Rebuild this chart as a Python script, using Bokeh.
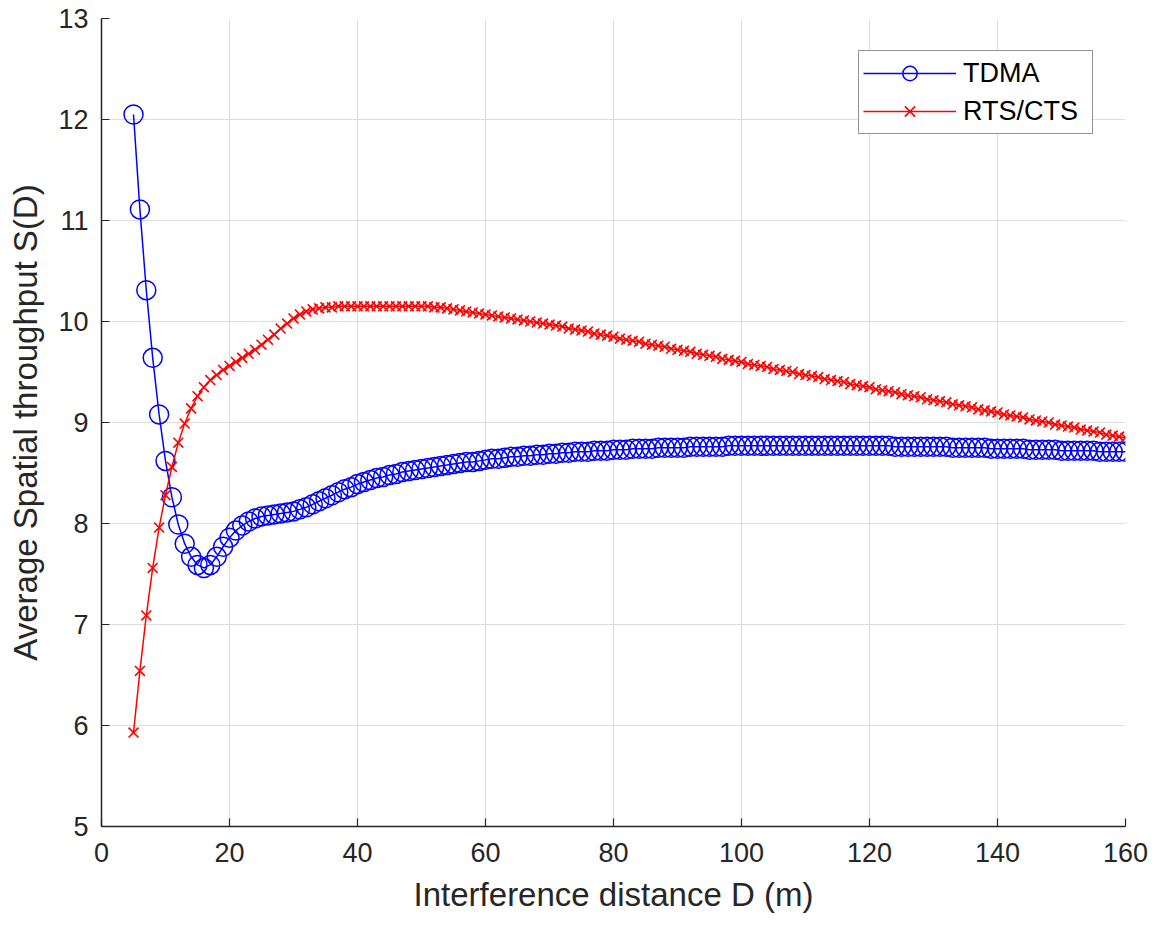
from bokeh.plotting import figure
from bokeh.models import FixedTicker, Legend, LegendItem
from bokeh.embed import file_html
from bokeh.resources import INLINE

# ---- data ----
D = list(range(5, 161))

tdma = [
    12.05, 11.11, 10.31, 9.64, 9.08, 8.62, 8.26, 7.99, 7.80, 7.67,
    7.59, 7.56, 7.59, 7.67, 7.77, 7.86, 7.93, 7.98, 8.02, 8.05,
    8.07, 8.08, 8.09, 8.10, 8.11, 8.12, 8.14, 8.16, 8.19, 8.22,
    8.25, 8.28, 8.31, 8.34, 8.36, 8.39, 8.41, 8.43, 8.45, 8.46,
    8.48, 8.49, 8.51, 8.52, 8.53, 8.54, 8.55, 8.56, 8.57, 8.58,
    8.59, 8.60, 8.61, 8.61, 8.62, 8.63, 8.64, 8.64, 8.65, 8.66,
    8.66, 8.67, 8.67, 8.68, 8.68, 8.69, 8.69, 8.70, 8.70, 8.71,
    8.71, 8.71, 8.72, 8.72, 8.72, 8.73, 8.73, 8.73, 8.74, 8.74,
    8.74, 8.74, 8.75, 8.75, 8.75, 8.75, 8.75, 8.76, 8.76, 8.76,
    8.76, 8.76, 8.76, 8.77, 8.77, 8.77, 8.77, 8.77, 8.77, 8.77,
    8.77, 8.77, 8.77, 8.77, 8.77, 8.77, 8.77, 8.77, 8.77, 8.77,
    8.77, 8.77, 8.77, 8.77, 8.77, 8.77, 8.77, 8.77, 8.77, 8.76,
    8.76, 8.76, 8.76, 8.76, 8.76, 8.76, 8.76, 8.76, 8.75, 8.75,
    8.75, 8.75, 8.75, 8.75, 8.74, 8.74, 8.74, 8.74, 8.74, 8.74,
    8.73, 8.73, 8.73, 8.73, 8.73, 8.72, 8.72, 8.72, 8.72, 8.72,
    8.72, 8.71, 8.71, 8.71, 8.71, 8.71,
]

rts_cts = [
    5.93, 6.54, 7.09, 7.56, 7.96, 8.28, 8.56, 8.80, 8.99, 9.14,
    9.26, 9.35, 9.42, 9.47, 9.52, 9.56, 9.60, 9.64, 9.68, 9.72,
    9.77, 9.82, 9.87, 9.93, 9.98, 10.03, 10.07, 10.10, 10.12, 10.13,
    10.14, 10.14, 10.15, 10.15, 10.15, 10.15, 10.15, 10.15, 10.15, 10.15,
    10.15, 10.15, 10.15, 10.15, 10.15, 10.15, 10.15, 10.14, 10.14, 10.13,
    10.12, 10.11, 10.10, 10.09, 10.08, 10.07, 10.06, 10.05, 10.04, 10.03,
    10.02, 10.01, 10.00, 9.99, 9.98, 9.97, 9.96, 9.95, 9.93, 9.92,
    9.91, 9.90, 9.88, 9.87, 9.86, 9.85, 9.83, 9.82, 9.81, 9.80,
    9.78, 9.77, 9.76, 9.75, 9.73, 9.72, 9.71, 9.70, 9.68, 9.67,
    9.66, 9.65, 9.63, 9.62, 9.61, 9.60, 9.58, 9.57, 9.56, 9.55,
    9.53, 9.52, 9.51, 9.50, 9.48, 9.47, 9.46, 9.45, 9.43, 9.42,
    9.41, 9.40, 9.38, 9.37, 9.36, 9.35, 9.33, 9.32, 9.31, 9.30,
    9.28, 9.27, 9.26, 9.25, 9.23, 9.22, 9.21, 9.20, 9.18, 9.17,
    9.16, 9.15, 9.13, 9.12, 9.11, 9.10, 9.08, 9.07, 9.06, 9.05,
    9.03, 9.02, 9.01, 9.00, 8.98, 8.97, 8.96, 8.95, 8.93, 8.92,
    8.91, 8.90, 8.88, 8.87, 8.86, 8.85,
]

x_ticks = [0, 20, 40, 60, 80, 100, 120, 140, 160]
y_ticks = [5, 6, 7, 8, 9, 10, 11, 12, 13]
series_names = ["TDMA", "RTS/CTS"]

FONT = "Liberation Sans"
DARK = "#262626"

p = figure(width=1154, height=928, x_range=(0, 160), y_range=(5, 13),
           output_backend="svg", toolbar_location=None,
           min_border_left=101, min_border_right=29,
           min_border_top=18, min_border_bottom=102)
p.outline_line_color = None
p.background_fill_color = "white"
p.border_fill_color = "white"

# axes
for ax in (p.xaxis[0], p.yaxis[0]):
    ax.axis_line_color = DARK
    ax.axis_line_width = 1.5
    ax.major_tick_line_color = DARK
    ax.major_tick_line_width = 1.2
    ax.major_tick_in = 8
    ax.major_tick_out = 0
    ax.minor_tick_line_color = None
    ax.major_label_text_font = FONT
    ax.major_label_text_font_size = "27px"
    ax.major_label_text_color = DARK
    ax.axis_label_text_font = FONT
    ax.axis_label_text_font_size = "33px"
    ax.axis_label_text_font_style = "normal"
    ax.axis_label_text_color = DARK

p.xaxis.ticker = FixedTicker(ticks=x_ticks)
p.yaxis.ticker = FixedTicker(ticks=y_ticks)
p.xaxis.axis_label = "Interference distance D (m)"
p.yaxis.axis_label = "Average Spatial throughput S(D)"
p.xaxis.major_label_standoff = 16
p.xaxis.axis_label_standoff = 11
p.yaxis.major_label_standoff = 13
p.yaxis.axis_label_standoff = 11

p.xgrid.grid_line_color = "#dedede"
p.ygrid.grid_line_color = "#dedede"
p.xgrid.grid_line_width = 1
p.ygrid.grid_line_width = 1

# series
l1 = p.line(D, tdma, line_color="#0000ff", line_width=1.5)
s1 = p.scatter(D, tdma, marker="circle", size=19, fill_color=None,
               line_color="#0000ff", line_width=1.5)
l2 = p.line(D, rts_cts, line_color="#ff0000", line_width=1.5)
s2 = p.scatter(D, rts_cts, marker="x", size=14,
               line_color="#ff0000", line_width=1.6)

legend = Legend(items=[LegendItem(label=series_names[0], renderers=[l1, s1]),
                       LegendItem(label=series_names[1], renderers=[l2, s2])],
                location="top_right", margin=32,
                label_text_font=FONT, label_text_font_size="27px",
                label_text_color="black",
                glyph_width=93, glyph_height=36, label_standoff=7,
                label_width=125, padding=4, spacing=2,
                border_line_color=DARK, border_line_width=1.5,
                background_fill_color="white", background_fill_alpha=1.0)
p.add_layout(legend)

open("out.html", "w").write(file_html(p, INLINE))
